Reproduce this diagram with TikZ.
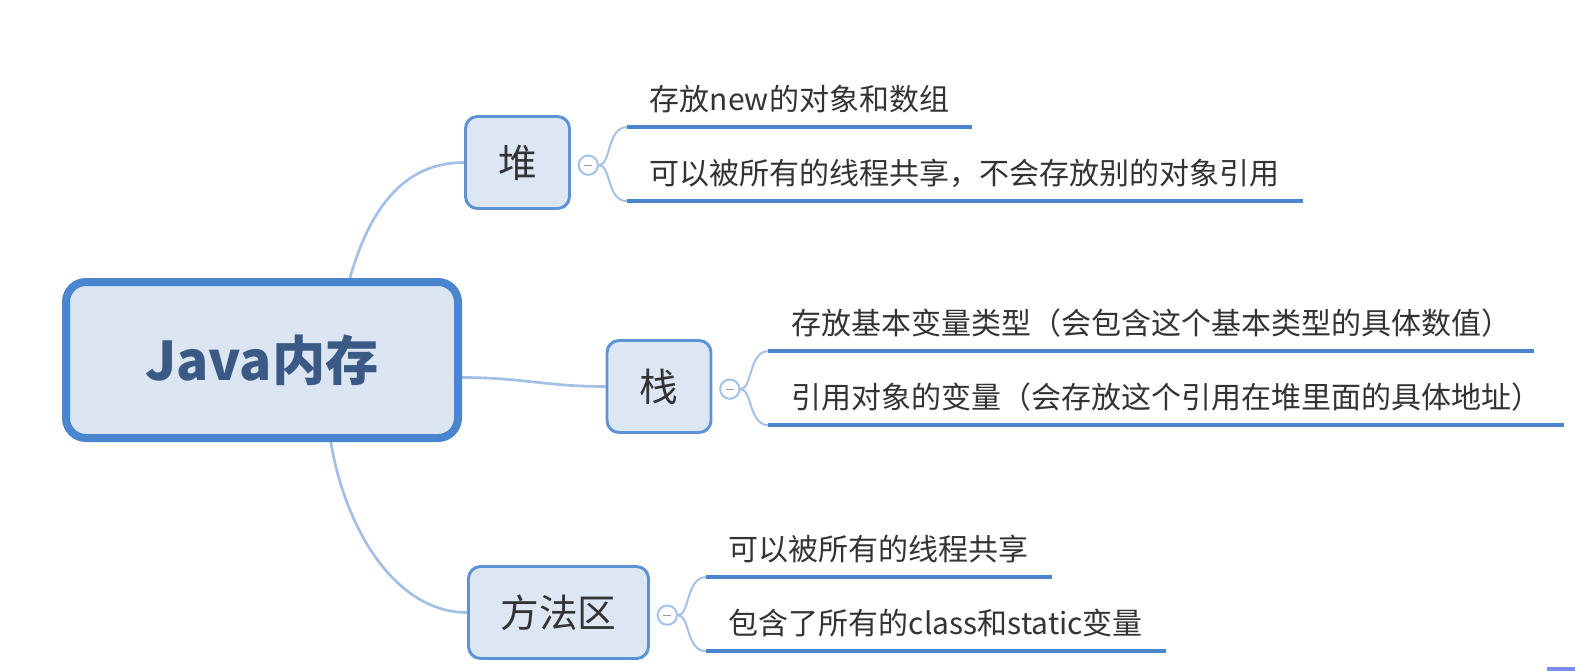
\documentclass[tikz,border=0pt]{standalone}
\usepackage{fontspec}
\setmainfont{Noto Sans CJK SC}
\usepackage{xcolor}
\usepackage{tikz}
\usetikzlibrary{positioning, backgrounds}
\definecolor{rootborder}{HTML}{4A86CF}
\definecolor{rootfill}{HTML}{DCE6F2}
\definecolor{roottext}{HTML}{3A5A85}
\definecolor{branchborder}{HTML}{5B93D6}
\definecolor{branchfill}{HTML}{DDE7F3}
\definecolor{textdark}{HTML}{333333}
\definecolor{linkblue}{HTML}{A2C0E6}
\definecolor{dotline}{HTML}{A4C2E8}
\definecolor{underblue}{HTML}{4A84CC}
\definecolor{minusgray}{HTML}{9A9A9A}
\definecolor{cornerblue}{HTML}{7B8CF0}
\tikzstyle{root} = [rectangle, rounded corners=15pt, minimum width=294pt, minimum height=117pt, draw=rootborder, line width=6pt, fill=rootfill, text=roottext, font=\fontsize{40}{48}\selectfont\bfseries]
\tikzstyle{branch} = [rectangle, rounded corners=9pt, minimum width=78pt, minimum height=69pt, inner xsep=24pt, draw=branchborder, line width=2.2pt, fill=branchfill, text=textdark, font=\fontsize{29}{35}\selectfont]
\tikzstyle{fold} = [circle, minimum size=14.5pt, inner sep=0pt, draw=dotline, line width=1.5pt, fill=white]
\tikzstyle{leaf} = [inner xsep=17pt, inner ysep=8pt, text height=18pt, text depth=4.5pt, text=textdark, font=\fontsize{22.5}{27}\selectfont]
\tikzstyle{underline} = [underblue, line width=3.4pt]
\tikzstyle{link} = [linkblue, line width=2pt]
\tikzstyle{twig} = [dotline, line width=1.5pt]
\newcommand{\foldmark}{\textcolor{minusgray}{\rule{6pt}{1pt}}}

\begin{document}
\begin{tikzpicture}[x=0.75pt, y=-0.75pt]
    \useasboundingbox (0,0) rectangle (1575,671);

    % --- Centro
    \node (java) [root] at (262,360) {Java内存};

    % --- Ramas
    \node (heap) [branch] at (517.5,162.5) {堆};
    \node (stack) [branch] at (659,386.5) {栈};
    \node (method) [branch] at (558.5,612.5) {方法区};

    \node (heapfold) [fold, right=5pt of heap.east, yshift=-2pt] {\foldmark};
    \node (stackfold) [fold, right=5pt of stack.east, yshift=-2pt] {\foldmark};
    \node (methodfold) [fold, right=5pt of method.east, yshift=-2pt] {\foldmark};

    % --- Hojas
    \node (heapnew) [leaf, above right=28.5pt and 21pt of heapfold.east] {存放new的对象和数组};
    \node (heapshare) [leaf, below right=27pt and 21pt of heapfold.east, anchor=south west] {可以被所有的线程共享，不会存放别的对象引用};

    \node (stackbasic) [leaf, above right=28.5pt and 21pt of stackfold.east] {存放基本变量类型（会包含这个基本类型的具体数值）};
    \node (stackref) [leaf, below right=27pt and 21pt of stackfold.east, anchor=south west] {引用对象的变量（会存放这个引用在堆里面的具体地址）};

    \node (methodshare) [leaf, above right=28.5pt and 21pt of methodfold.east] {可以被所有的线程共享};
    \node (methodclass) [leaf, below right=27pt and 21pt of methodfold.east, anchor=south west] {包含了所有的class和static变量};

    % --- Conexiones
    \begin{scope}[on background layer]
        \draw [link] (java.43) .. controls +(20,-70) and +(-60,0) .. (heap.west);
        \draw [link] (java.-5) .. controls +(60,0) and +(-60,0) .. (stack.west);
        \draw [link] (java.-50) .. controls +(15,90) and +(-70,0) .. (method.west);
    \end{scope}

    \foreach \fold/\leaf in {heapfold/heapnew, heapfold/heapshare, stackfold/stackbasic, stackfold/stackref, methodfold/methodshare, methodfold/methodclass}
        \draw [twig] (\fold.east) .. controls +(12,0) and +(-20,0) .. (\leaf.south west);

    \foreach \leaf in {heapnew, heapshare, stackbasic, stackref, methodshare, methodclass}
        \draw [underline] (\leaf.south west) -- (\leaf.south east);

    \fill [cornerblue] (1547,667) rectangle (1575,671);
\end{tikzpicture}
\end{document}
